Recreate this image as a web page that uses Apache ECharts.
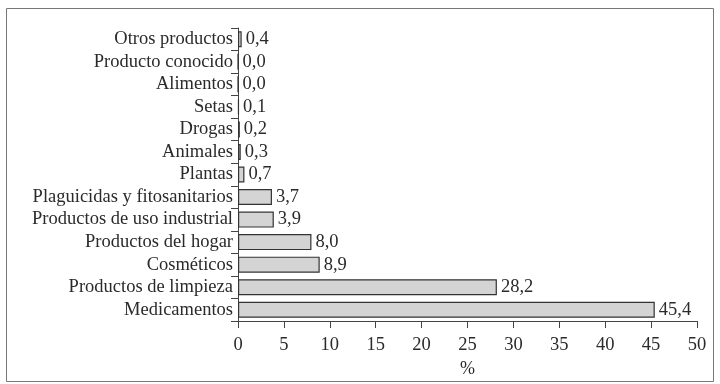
<!DOCTYPE html>
<html>
<head>
<meta charset="utf-8">
<script src="https://cdn.jsdelivr.net/npm/echarts@6/dist/echarts.min.js"></script>
<style>
  html, body { margin: 0; padding: 0; background: #fff; }
  #chart { width: 720px; height: 384px; }
</style>
</head>
<body>
<div id="chart"></div>
<script>
// categorias, de abajo hacia arriba
const categories = [
  'Medicamentos', 'Productos de limpieza', 'Cosméticos', 'Productos del hogar',
  'Productos de uso industrial', 'Plaguicidas y fitosanitarios', 'Plantas',
  'Animales', 'Drogas', 'Setas', 'Alimentos', 'Producto conocido', 'Otros productos'
]
const values = [45.4, 28.2, 8.9, 8.0, 3.9, 3.7, 0.7, 0.3, 0.2, 0.1, 0.0, 0.0, 0.4]
const xTicks = [0, 5, 10, 15, 20, 25, 30, 35, 40, 45, 50]

const font = 'Liberation Serif'
const textColor = '#2a2a2a'
const lineColor = '#444'

let myChart = echarts.init(document.getElementById('chart'))
myChart.setOption({
  animation: false,
  graphic: [{
    type: 'rect',
    shape: { x: 6.5, y: 8.5, width: 707, height: 373 },
    style: { fill: 'none', stroke: '#777', lineWidth: 1 }
  }],
  grid: { left: 238, right: 23, top: 28, bottom: 63, outerBoundsMode: 'none' },
  xAxis: {
    type: 'value',
    min: xTicks[0],
    max: xTicks[xTicks.length - 1],
    interval: 5,
    name: '%',
    nameLocation: 'middle',
    nameGap: 39,
    nameTextStyle: { fontFamily: font, fontSize: 18, color: textColor },
    splitLine: { show: false },
    axisLine: { show: true, lineStyle: { color: lineColor, width: 1 } },
    axisTick: { show: true, length: 7, lineStyle: { color: lineColor } },
    axisLabel: { fontFamily: font, fontSize: 18.5, color: textColor, margin: 15 }
  },
  yAxis: {
    type: 'category',
    data: categories,
    axisLine: { show: true, lineStyle: { color: lineColor, width: 1 } },
    axisTick: { show: true, length: 7, interval: 0, lineStyle: { color: lineColor } },
    axisLabel: { interval: 0, fontFamily: font, fontSize: 18.5, color: textColor, margin: 5 }
  },
  series: [{
    type: 'bar',
    data: values,
    barWidth: 16,
    itemStyle: { color: '#d4d4d4', borderColor: '#333', borderWidth: 1.2 },
    label: {
      show: true,
      position: 'right',
      distance: 4,
      fontFamily: font,
      fontSize: 18.5,
      color: textColor,
      formatter: p => p.value.toFixed(1).replace('.', ',')
    }
  }]
})
</script>
</body>
</html>
